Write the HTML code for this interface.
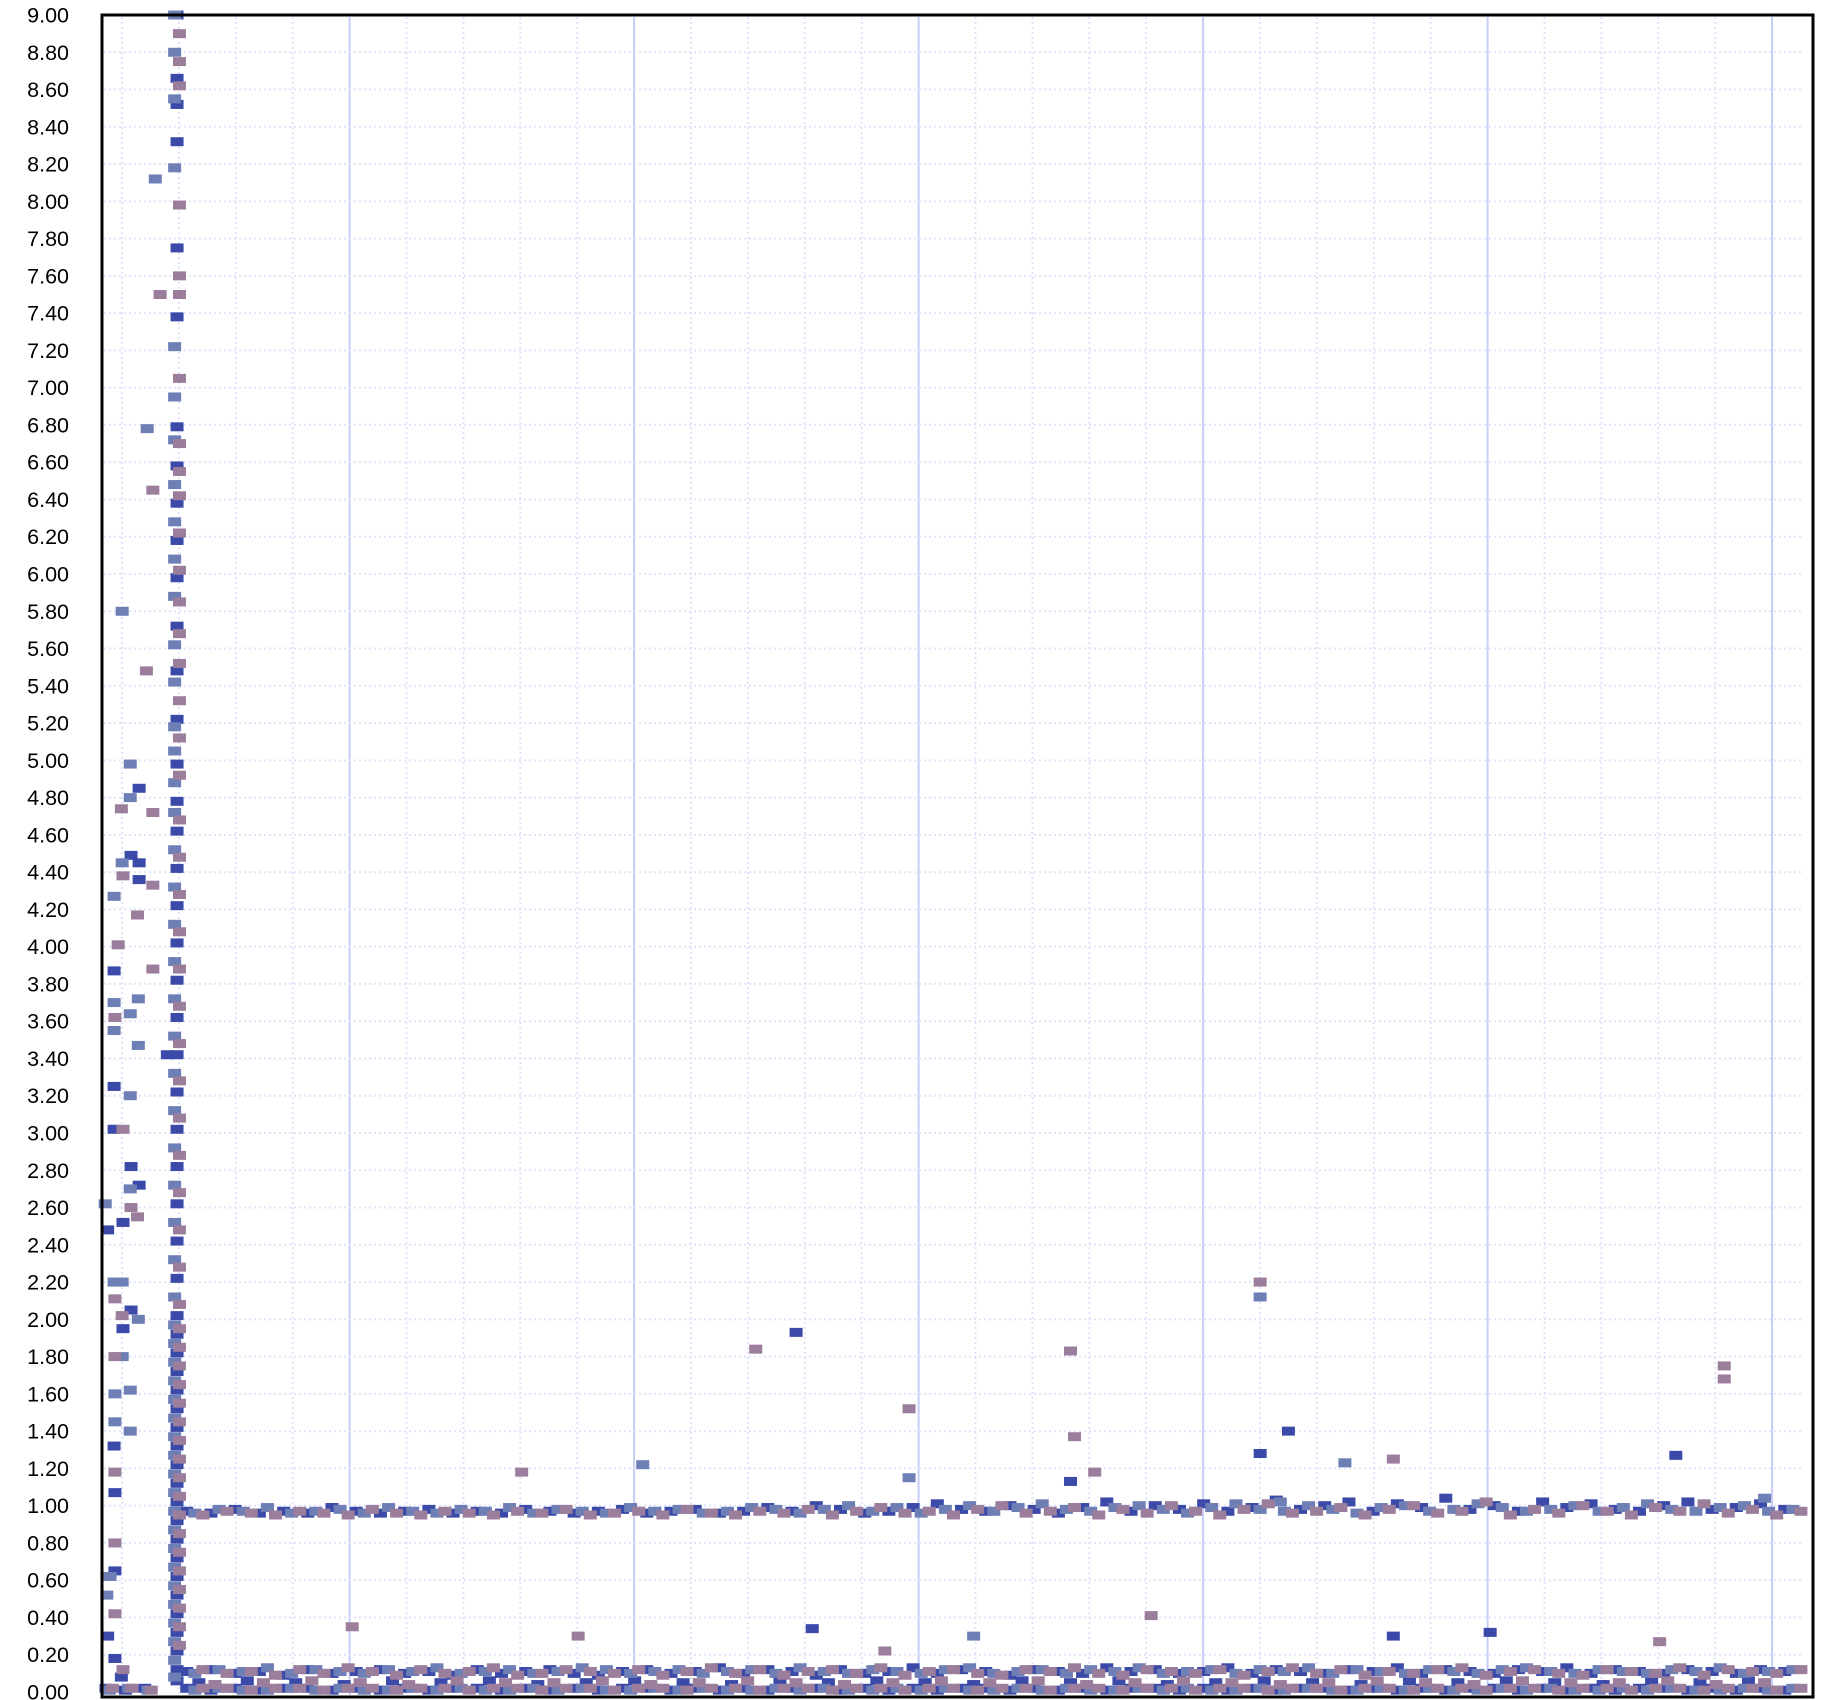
<!DOCTYPE html>
<html><head><meta charset="utf-8"><style>
html,body{margin:0;padding:0;background:#fff;}
svg{display:block;font-family:"Liberation Sans",sans-serif;}
</style></head><body>
<svg id="chart" width="1843" height="1700" viewBox="0 0 1843 1700" xmlns="http://www.w3.org/2000/svg">
<g id="grid"></g>
<g id="yticks"></g>
<g id="marks"></g>
<rect x="102" y="15" width="1711" height="1682" fill="none" stroke="#000" stroke-width="3"/>
</svg>
<script>
// ---- data ----
const yTicks = [0,0.2,0.4,0.6,0.8,1,1.2,1.4,1.6,1.8,2,2.2,2.4,2.6,2.8,3,3.2,3.4,3.6,3.8,4,4.2,4.4,4.6,4.8,5,5.2,5.4,5.6,5.8,6,6.2,6.4,6.6,6.8,7,7.2,7.4,7.6,7.8,8,8.2,8.4,8.6,8.8,9];
const seriesNames = ["series-a","series-b","series-c"];
const seriesColors = ["#3b4aa9","#6e7fb6","#9b7d9c"];
// band ~1.0 (x = 10.5 + offset + 3*i)
const bandHighA = [0.97,0.96,0.98,0.96,0.97,0.96,0.99,0.97,0.96,0.97,0.98,0.96,0.97,0.96,0.98,0.97,0.96,0.97,0.98,0.96,0.97,0.98,0.96,0.97,0.99,0.97,1.00,0.98,0.96,0.97,0.99,1.01,0.98,0.97,1.00,0.98,0.96,0.99,1.02,0.97,1.00,0.98,1.01,0.97,0.99,1.03,0.98,1.00,1.02,0.97,1.01,0.99,1.04,0.98,1.00,0.97,1.02,0.99,1.01,0.98,0.97,1.00,1.02,0.98,0.99,1.01,0.98];
const bandHighB = [0.96,0.98,0.97,0.99,0.96,0.97,0.98,0.96,0.99,0.97,0.96,0.98,0.97,0.99,0.96,0.98,0.97,0.96,0.99,0.97,0.98,0.96,0.97,0.99,0.98,0.96,0.98,1.00,0.97,0.99,0.96,0.98,1.00,0.97,0.99,1.01,0.98,0.97,0.99,1.00,0.98,0.96,0.99,1.01,0.98,0.97,1.00,0.98,0.96,0.99,1.00,0.97,0.98,1.01,0.99,0.97,0.98,1.00,0.97,0.99,1.01,0.98,0.97,0.99,1.00,0.97,0.98];
const bandHighC = [0.95,0.97,0.96,0.95,0.97,0.96,0.95,0.98,0.96,0.95,0.97,0.96,0.95,0.97,0.96,0.98,0.95,0.96,0.97,0.95,0.98,0.96,0.95,0.97,0.96,0.98,0.95,0.97,0.99,0.96,0.97,0.95,0.98,1.00,0.96,0.97,0.99,0.95,0.98,0.96,1.00,0.97,0.95,0.98,1.01,0.96,0.97,0.99,0.95,0.98,1.00,0.96,0.97,1.02,0.95,0.98,0.96,1.00,0.97,0.95,0.99,0.97,1.01,0.96,0.98,0.95,0.97];
// band ~0.1
const bandMidA = [0.11,0.12,0.10,0.11,0.09,0.12,0.10,0.11,0.12,0.10,0.11,0.09,0.12,0.10,0.11,0.12,0.10,0.09,0.11,0.12,0.10,0.11,0.13,0.10,0.12,0.11,0.09,0.12,0.10,0.11,0.13,0.10,0.12,0.11,0.09,0.12,0.11,0.10,0.13,0.11,0.12,0.10,0.11,0.13,0.10,0.12,0.11,0.10,0.12,0.11,0.13,0.10,0.12,0.11,0.10,0.12,0.11,0.13,0.10,0.12,0.11,0.10,0.12,0.11,0.10,0.12,0.11];
const bandMidB = [0.10,0.12,0.11,0.13,0.10,0.12,0.11,0.10,0.12,0.11,0.13,0.10,0.11,0.12,0.10,0.11,0.13,0.12,0.10,0.11,0.12,0.10,0.11,0.12,0.10,0.13,0.11,0.10,0.12,0.11,0.10,0.12,0.13,0.10,0.11,0.12,0.10,0.12,0.11,0.13,0.10,0.11,0.12,0.10,0.12,0.11,0.13,0.10,0.12,0.11,0.10,0.12,0.11,0.10,0.12,0.13,0.11,0.10,0.12,0.11,0.10,0.12,0.11,0.13,0.10,0.11,0.12];
const bandMidC = [0.12,0.10,0.11,0.09,0.12,0.10,0.13,0.11,0.09,0.12,0.10,0.11,0.13,0.09,0.10,0.12,0.11,0.10,0.12,0.09,0.11,0.13,0.10,0.12,0.09,0.11,0.12,0.10,0.13,0.09,0.11,0.12,0.10,0.09,0.12,0.11,0.13,0.10,0.09,0.12,0.11,0.10,0.12,0.09,0.11,0.13,0.10,0.12,0.09,0.11,0.10,0.12,0.13,0.09,0.11,0.12,0.10,0.09,0.12,0.11,0.10,0.13,0.09,0.12,0.11,0.10,0.12];
// sparse sub-row ~0.05 (x = 12 + offset + 6*i)
const bandSubA = [0.05,0.06,0.05,0.04,0.06,0.05,0.06,0.04,0.05,0.06,0.05,0.04,0.06,0.05,0.06,0.05,0.04,0.06,0.05,0.06,0.04,0.05,0.06,0.05,0.04,0.06,0.05,0.06,0.05,0.04,0.06,0.05,0.06];
const bandSubC = [0.04,0.05,0.06,0.05,0.04,0.06,0.05,0.05,0.06,0.04,0.05,0.06,0.05,0.04,0.05,0.06,0.05,0.06,0.04,0.05,0.06,0.05,0.04,0.05,0.06,0.05,0.04,0.06,0.05,0.05,0.06,0.04,0.05];
// band ~0.0
const bandLowA = [0.02,0.01,0.02,0.01,0.02,0.02,0.01,0.02,0.01,0.02,0.01,0.02,0.02,0.01,0.02,0.01,0.02,0.01,0.02,0.02,0.01,0.02,0.01,0.02,0.01,0.02,0.02,0.01,0.02,0.01,0.02,0.01,0.02,0.02,0.01,0.02,0.01,0.02,0.01,0.02,0.02,0.01,0.02,0.01,0.02,0.01,0.02,0.02,0.01,0.02,0.01,0.02,0.01,0.02,0.02,0.01,0.02,0.01,0.02,0.01,0.02,0.02,0.01,0.02,0.01,0.02,0.01];
const bandLowB = [0.01,0.02,0.01,0.01,0.02,0.01,0.02,0.01,0.01,0.02,0.01,0.02,0.01,0.01,0.02,0.01,0.02,0.01,0.01,0.02,0.01,0.02,0.01,0.01,0.02,0.01,0.02,0.01,0.01,0.02,0.01,0.02,0.01,0.01,0.02,0.01,0.02,0.01,0.01,0.02,0.01,0.02,0.01,0.01,0.02,0.01,0.02,0.01,0.01,0.02,0.01,0.02,0.01,0.01,0.02,0.01,0.02,0.01,0.01,0.02,0.01,0.02,0.01,0.01,0.02,0.01,0.02];
const bandLowC = [0.02,0.02,0.01,0.02,0.02,0.01,0.02,0.02,0.01,0.02,0.02,0.01,0.02,0.02,0.01,0.02,0.02,0.01,0.02,0.02,0.01,0.02,0.02,0.01,0.02,0.02,0.01,0.02,0.02,0.01,0.02,0.02,0.01,0.02,0.02,0.01,0.02,0.02,0.01,0.02,0.02,0.01,0.02,0.02,0.01,0.02,0.02,0.01,0.02,0.02,0.01,0.02,0.02,0.01,0.02,0.02,0.01,0.02,0.02,0.01,0.02,0.02,0.01,0.02,0.02,0.01,0.02];
// dense spike column
const spikeA = [9.0,8.66,8.52,8.32,7.75,7.38,6.79,6.58,6.38,6.18,5.98,5.72,5.48,5.22,4.98,4.78,4.62,4.42,4.22,4.02,3.82,3.62,3.42,3.22,3.02,2.82,2.62,2.42,2.22,2.02,1.92,1.82,1.72,1.62,1.52,1.42,1.32,1.22,1.12,1.02,0.92,0.82,0.72,0.62,0.52,0.42,0.32,0.22,0.12,0.06];
const spikeB = [9.0,8.8,8.55,8.18,7.22,6.95,6.72,6.48,6.28,6.08,5.88,5.62,5.42,5.18,5.05,4.88,4.72,4.52,4.32,4.12,3.92,3.72,3.52,3.32,3.12,2.92,2.72,2.52,2.32,2.12,1.97,1.87,1.77,1.67,1.57,1.47,1.37,1.27,1.17,1.07,0.97,0.87,0.77,0.67,0.57,0.47,0.37,0.27,0.17,0.08];
const spikeC = [8.9,8.75,8.62,7.98,7.6,7.5,7.05,6.7,6.55,6.42,6.22,6.02,5.85,5.68,5.52,5.32,5.12,4.92,4.68,4.48,4.28,4.08,3.88,3.68,3.48,3.28,3.08,2.88,2.68,2.48,2.28,2.08,1.95,1.85,1.75,1.65,1.55,1.45,1.35,1.25,1.15,1.05,0.95,0.85,0.75,0.65,0.55,0.45,0.35,0.25];
// left scatter and outliers [x, y]
const scatterA = [[0.7,2.48],[0.7,0.3],[1.5,3.25],[1.5,3.02],[1.5,3.87],[1.5,1.32],[1.6,0.65],[1.6,1.07],[1.6,0.18],[2.4,0.08],[2.6,2.52],[2.6,1.95],[3.6,2.82],[3.6,2.05],[3.6,4.49],[4.6,4.45],[4.6,4.85],[4.6,4.36],[4.6,2.72],[8.1,3.42],[86,1.93],[88,0.34],[120,1.13],[143.5,1.28],[147,1.4],[160,0.3],[195,1.27],[172,0.32]];
const scatterB = [[0.4,2.62],[0.6,0.52],[1.0,0.62],[1.5,2.2],[1.5,3.55],[1.5,3.7],[1.5,4.27],[1.6,1.45],[1.6,1.6],[2.5,5.8],[2.5,4.45],[2.5,2.2],[2.5,1.8],[3.5,4.98],[3.5,4.8],[3.5,3.64],[3.5,3.2],[3.5,2.7],[3.5,1.62],[3.5,1.4],[4.5,3.72],[4.5,3.47],[4.5,2.0],[5.6,6.78],[6.6,8.12],[67,1.22],[100,1.15],[143.5,2.12],[146,1.02],[206,1.04],[154,1.23],[108,0.3]];
const scatterC = [[1.6,0.42],[1.6,0.8],[1.6,1.18],[1.6,2.11],[1.6,1.8],[1.6,3.62],[2.0,4.01],[2.4,4.74],[2.5,2.02],[2.6,0.12],[2.6,3.02],[2.6,4.38],[3.6,2.6],[4.4,4.17],[4.4,2.55],[5.5,5.48],[6.3,6.45],[6.3,4.72],[6.3,3.88],[6.3,4.33],[7.2,7.5],[31,0.35],[52,1.18],[59,0.3],[81,1.84],[97,0.22],[100,1.52],[120,1.83],[120.5,1.37],[123,1.18],[130,0.41],[143.5,2.2],[201,1.75],[201,1.68],[193,0.27],[160,1.25]];
// ---- scales ----
const X0=102, X1=1813, xMax=212;
const Y0=1692, Y1=15, yMax=9;
function sx(v){return X0+v*(X1-X0)/xMax;}
function sy(v){return Y0-v*(Y0-Y1)/yMax;}
const NS="http://www.w3.org/2000/svg";
function mk(tag,attrs,parent){const e=document.createElementNS(NS,tag);for(const k in attrs)e.setAttribute(k,attrs[k]);parent.appendChild(e);return e;}
const grid=document.getElementById('grid'), yt=document.getElementById('yticks'), marks=document.getElementById('marks');
for(let k=0;k<30;k++){
  const x=122+k*56.9; if(x>1805)break;
  const major=(k%5===4);
  const l=mk('line',{x1:x,x2:x,y1:17,y2:1695,stroke:major?'#c6cdf6':'#dfe4fb','stroke-width':2,'stroke-dasharray':major?'none':'2,3'},grid);
  
  
}
yTicks.forEach(v=>{
  const y=sy(v);
  if(v>0&&v<9){
    const l=mk('line',{x1:104,x2:1804,y1:y,y2:y,stroke:'#dfe4fb','stroke-width':2,'stroke-dasharray':'2,3'},grid);
    
    
  }
  const t=mk('text',{x:69,y:y+7.5,'text-anchor':'end','font-size':21.5,fill:'#000'},yt);
  t.textContent=v.toFixed(2);
  
  
});
function dot(x,y,color,name){
  const px=sx(x), py=sy(y);
  const r=mk('rect',{x:px-6.5,y:py-4.5,width:13,height:9,fill:color},marks);
  
  
}
const highs=[bandHighA,bandHighB,bandHighC], mids=[bandMidA,bandMidB,bandMidC], lows=[bandLowA,bandLowB,bandLowC];
const subs=[bandSubA,null,bandSubC];
const spikes=[spikeA,spikeB,spikeC], scatters=[scatterA,scatterB,scatterC];
const spikeX=[9.3,9.0,9.6];
for(let s=0;s<3;s++){
  const c=seriesColors[s], n=seriesNames[s];
  lows[s].forEach((v,i)=>dot(10.5+s+3*i,v,c,n+'-point'));
  for(let i=0;i<3;i++) dot(0.5+s*0.4+i*2.4,lows[s][i],c,n+'-point');
  mids[s].forEach((v,i)=>dot(10.5+s+3*i,v,c,n+'-point'));
  if(subs[s]) subs[s].forEach((v,i)=>dot(12+s+6*i,v,c,n+'-point'));
  highs[s].forEach((v,i)=>dot(10.5+s+3*i,v,c,n+'-point'));
  spikes[s].forEach(v=>dot(spikeX[s],v,c,n+'-point'));
  scatters[s].forEach(p=>dot(p[0],p[1],c,n+'-point'));
}
</script>
</body></html>
